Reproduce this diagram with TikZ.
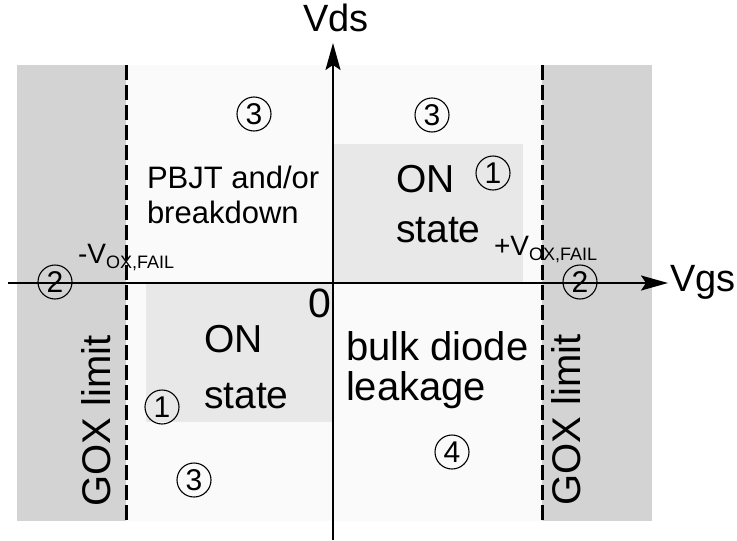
\documentclass[tikz,border=0pt]{standalone}
\usepackage{fontspec}
\setmainfont{Liberation Sans}
\usetikzlibrary{arrows.meta}
\definecolor{panelgray}{HTML}{FAFAFA}
\definecolor{goxgray}{HTML}{D3D3D3}
\definecolor{ongray}{HTML}{E8E8E8}
\newcommand{\setfs}[2]{\fontsize{#1}{#2}\selectfont}

\begin{document}
\begin{tikzpicture}[x=1pt, y=-1pt, >={Stealth[length=27pt, width=15pt, inset=5pt]}, line width=2pt,
  numcirc/.style={circle, draw, line width=1.1pt, minimum size=34pt, inner sep=0pt, font=\setfs{30}{30}},
  areatext/.style={inner sep=0pt, align=left, anchor=north west},
  goxtext/.style={inner sep=0pt, rotate=90, anchor=base, font=\setfs{40}{40}},
  oxtext/.style={inner sep=0pt, anchor=base west, font=\setfs{28}{28}},
  limitline/.style={line width=3pt, dash pattern=on 15pt off 5pt}]
  \useasboundingbox (0,0) rectangle (737,541);
  \fill[panelgray] (17,65) rectangle (652,521);
  \fill[goxgray] (17,65) rectangle (126,521);
  \fill[goxgray] (542,65) rectangle (652,521);
  \fill[ongray] (333,144) rectangle (523,283);
  \fill[ongray] (146,283) rectangle (333,422);

  \coordinate (xlo) at (8,283);
  \coordinate (xhi) at (668,283);
  \coordinate (ylo) at (333,540);
  \coordinate (yhi) at (333,43);
  \draw[->] (xlo) -- (xhi);
  \draw[->] (ylo) -- (yhi);
  \node[inner sep=0pt, anchor=base west, font=\setfs{38}{38}] (vds) at (302,31) {Vds};
  \node[inner sep=0pt, anchor=base west, font=\setfs{38}{38}] (vgs) at (669,291) {Vgs};
  \node[inner sep=0pt, anchor=north east, font=\setfs{41}{41}] (zero) at (332,288) {0};

  \node[areatext, font=\setfs{31}{35}] (pbjt) at (146,165) {PBJT and/or\\breakdown};
  \node[areatext, font=\setfs{39}{50}] (onup) at (395,164) {ON\\state};
  \node[areatext, font=\setfs{39}{56}] (onlow) at (203,324) {ON\\state};
  \node[areatext, font=\setfs{40}{40}] (bulk) at (345,331) {bulk diode\\leakage};
  \node[goxtext] (goxleft) at (110,421) {GOX limit};
  \node[goxtext] (goxright) at (580,420) {GOX limit};
  \node[oxtext] (oxneg) at (77,263) {-V\raisebox{-5pt}{\setfs{18}{18}OX,FAIL}};
  \node[oxtext] (oxpos) at (493,255) {+V\raisebox{-5pt}{\setfs{18}{18}OX,FAIL}};

  \node[numcirc] (c3a) at (254,114) {3};
  \node[numcirc] (c3b) at (432,115) {3};
  \node[numcirc] (c1a) at (493,173) {1};
  \node[numcirc] (c2a) at (55,282) {2};
  \node[numcirc] (c2b) at (580,282) {2};
  \node[numcirc] (c1b) at (162,407) {1};
  \node[numcirc] (c3c) at (194,480) {3};
  \node[numcirc] (c4) at (452,452) {4};

  \coordinate (dltop) at (126,65);
  \coordinate (dlbot) at (126,521);
  \coordinate (drtop) at (542,65);
  \coordinate (drbot) at (542,521);
  \draw[limitline] (dltop) -- (dlbot);
  \draw[limitline] (drtop) -- (drbot);
\end{tikzpicture}
\end{document}
